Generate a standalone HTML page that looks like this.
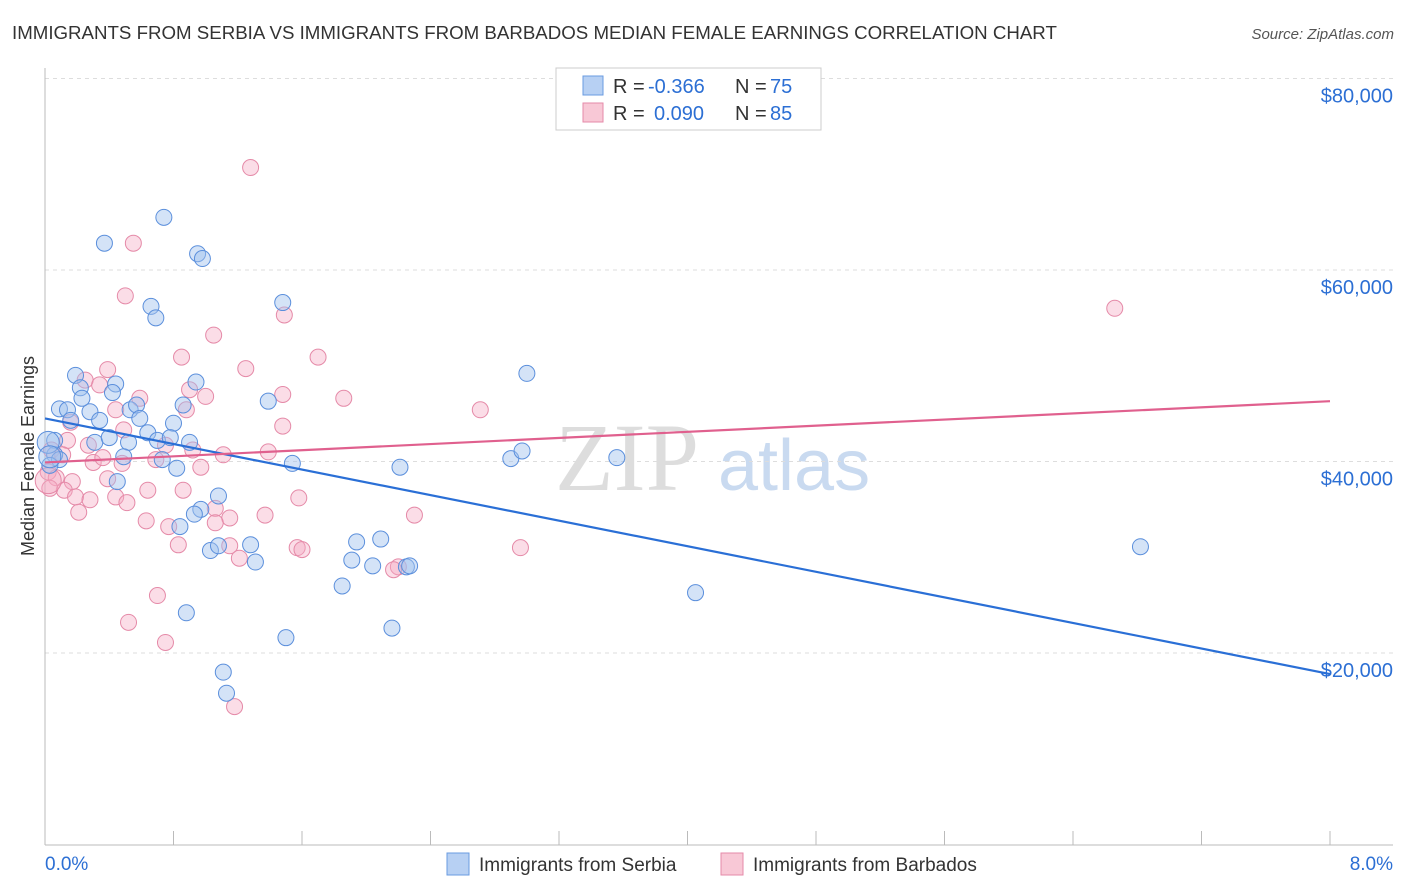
<!DOCTYPE html>
<html><head><meta charset="utf-8"><style>
body{margin:0;background:#fff;font-family:"Liberation Sans",sans-serif}
svg{display:block}
</style></head><body>
<svg id="c" width="1406" height="892">
<text x="12" y="39" font-size="18.7" fill="#333">IMMIGRANTS FROM SERBIA VS IMMIGRANTS FROM BARBADOS MEDIAN FEMALE EARNINGS CORRELATION CHART</text>
<text x="1394" y="39" font-size="15" fill="#555" font-style="italic" text-anchor="end">Source: ZipAtlas.com</text>
<text x="555" y="490" font-size="96" fill="#ddd" font-family="Liberation Serif,serif">ZIP</text>
<text x="718" y="490" font-size="72" fill="#c9daf0">atlas</text>
<text x="34" y="456" font-size="18" fill="#333" text-anchor="middle" transform="rotate(-90 34 456)">Median Female Earnings</text>
<g id="grid"></g><g id="pts"></g><g id="lines"></g>
<g>
<rect x="556" y="68" width="265" height="62" fill="#fff" stroke="#ccc"/>
<rect x="583" y="76" width="20" height="19" fill="#b7d0f3" stroke="#6a9be0"/>
<rect x="583" y="103" width="20" height="19" fill="#f8c8d6" stroke="#e58aa8"/>
<text x="613" y="93" font-size="20" fill="#333">R =</text>
<text x="648" y="93" font-size="20" fill="#2c6fd4">-0.366</text>
<text x="735" y="93" font-size="20" fill="#333">N =</text>
<text x="770" y="93" font-size="20" fill="#2c6fd4">75</text>
<text x="613" y="120" font-size="20" fill="#333">R =</text>
<text x="654" y="120" font-size="20" fill="#2c6fd4">0.090</text>
<text x="735" y="120" font-size="20" fill="#333">N =</text>
<text x="770" y="120" font-size="20" fill="#2c6fd4">85</text>
</g>
<g>
<rect x="447" y="853" width="22" height="22" fill="#b7d0f3" stroke="#6a9be0"/>
<text x="479" y="871" font-size="19" fill="#333">Immigrants from Serbia</text>
<rect x="721" y="853" width="22" height="22" fill="#f8c8d6" stroke="#e58aa8"/>
<text x="753" y="871" font-size="19" fill="#333">Immigrants from Barbados</text>
</g>
</svg>
<script>
const yTicks=[20000,40000,60000,80000];
const yTickLabels=["$20,000","$40,000","$60,000","$80,000"];
const xTickLabels=["0.0%","8.0%"];
const serbiaX=[0.37,0.74,0.95,0.98,0.66,0.69,1.48,0.19,0.22,0.44,0.94,0.09,0.14,0.28,0.34,0.16,0.23,0.42,0.53,0.57,0.59,0.86,0.80,1.39,0.06,0.31,0.40,0.52,0.64,0.70,0.78,0.90,0.06,0.09,0.03,0.49,0.73,0.82,1.54,2.21,2.90,2.97,3.00,3.56,0.45,1.08,0.97,0.93,0.84,1.03,1.08,1.28,1.31,1.94,1.91,2.04,2.09,2.25,2.27,1.85,2.16,1.50,0.88,1.11,1.13,4.05,6.82,0.02,0.03];
const serbiaY=[62.8,65.5,61.7,61.2,56.2,55.0,56.6,49.0,47.7,48.1,48.3,45.5,45.4,45.2,44.3,44.3,46.6,47.2,45.4,45.9,44.5,45.9,44.0,46.3,42.2,42.0,42.5,42.0,43.0,42.2,42.5,42.0,40.7,40.2,39.6,40.5,40.2,39.3,39.8,39.4,40.3,41.1,49.2,40.4,37.9,36.4,35.0,34.5,33.2,30.7,31.2,31.3,29.5,31.6,29.7,29.1,31.9,29.0,29.1,27.0,22.6,21.6,24.2,18.0,15.8,26.3,31.1,42.0,40.5];
const barbadosX=[1.28,0.55,0.50,6.66,1.49,1.05,0.85,1.70,1.25,0.39,0.25,0.34,0.90,1.00,0.59,1.48,1.86,0.44,0.88,2.71,0.16,1.48,0.49,0.14,0.27,0.75,0.92,1.11,1.39,0.04,0.11,0.30,0.36,0.48,0.69,0.97,0.02,0.07,0.17,0.12,0.03,0.39,0.64,0.86,0.19,0.28,0.44,0.51,0.21,1.06,1.15,1.37,1.58,2.30,0.63,0.77,1.06,0.83,1.15,1.57,1.60,2.96,1.21,2.20,2.17,0.70,0.52,0.75,1.18,0.02];
const barbadosY=[70.7,62.8,57.3,56.0,55.3,53.2,50.9,50.9,49.7,49.6,48.5,48.0,47.5,46.8,46.6,47.0,46.6,45.4,45.4,45.4,44.1,43.7,43.3,42.2,41.7,41.7,41.2,40.7,41.0,41.2,40.7,39.9,40.4,39.8,40.2,39.4,38.9,38.3,37.9,37.0,37.2,38.2,37.0,37.0,36.3,36.0,36.3,35.7,34.7,35.1,34.1,34.4,36.2,34.4,33.8,33.2,33.6,31.3,31.2,31.0,30.8,31.0,29.9,29.0,28.7,26.0,23.2,21.1,14.4,38.0];
const serbiaTrend=[44.5,17.8];
const barbadosTrend=[39.9,46.3];
const NS="http://www.w3.org/2000/svg";
const X=p=>45+p*1285/8;
const Y=v=>653-(v-20000)*191.5/20000;
const Yk=k=>Y(k*1000);
function mk(t,a,p){const e=document.createElementNS(NS,t);for(const k in a)e.setAttribute(k,a[k]);p.appendChild(e);return e;}
const grid=document.getElementById('grid');
yTicks.forEach((v,i)=>{
 const l=mk('line',{x1:45,x2:1393,y1:Y(v),y2:Y(v),stroke:'#ddd','stroke-dasharray':'4,4'},grid);
 
 
 const t=mk('text',{x:1393,y:Y(v)+24,'font-size':20,fill:'#2c6fd4','text-anchor':'end'},grid);
 t.textContent=yTickLabels[i];
 
 
});
const ax=mk('line',{x1:45,x2:1393,y1:845,y2:845,stroke:'#bbb'},grid);


const ay=mk('line',{x1:45,x2:45,y1:68,y2:845,stroke:'#bbb'},grid);


for(let i=0;i<=10;i++){const t=mk('line',{x1:X(i*0.8),x2:X(i*0.8),y1:831,y2:845,stroke:'#bbb'},grid);
 
 }
[[0,'start',45],[1,'end',1393]].forEach(([i,a,x])=>{const t=mk('text',{x:x,y:870,'font-size':19,fill:'#2c6fd4','text-anchor':a},grid);t.textContent=xTickLabels[i];
 
 });
const pts=document.getElementById('pts');
barbadosX.forEach((x,i)=>{const c=mk('circle',{cx:X(x),cy:Yk(barbadosY[i]),r:i==barbadosX.length-1?13:8,fill:'rgba(244,170,195,0.4)',stroke:'#e58aa8','stroke-width':1},pts);
 
 });
serbiaX.forEach((x,i)=>{const c=mk('circle',{cx:X(x),cy:Yk(serbiaY[i]),r:i>=serbiaX.length-2?11:8,fill:'rgba(160,192,238,0.45)',stroke:'#5b8fdc','stroke-width':1},pts);
 
 });
const lines=document.getElementById('lines');
const l1=mk('line',{x1:X(0),x2:X(8),y1:Yk(serbiaTrend[0]),y2:Yk(serbiaTrend[1]),stroke:'#2a6fd6','stroke-width':2.2},lines);


const l2=mk('line',{x1:X(0),x2:X(8),y1:Yk(barbadosTrend[0]),y2:Yk(barbadosTrend[1]),stroke:'#e0608e','stroke-width':2.2},lines);


</script>
</body></html>
